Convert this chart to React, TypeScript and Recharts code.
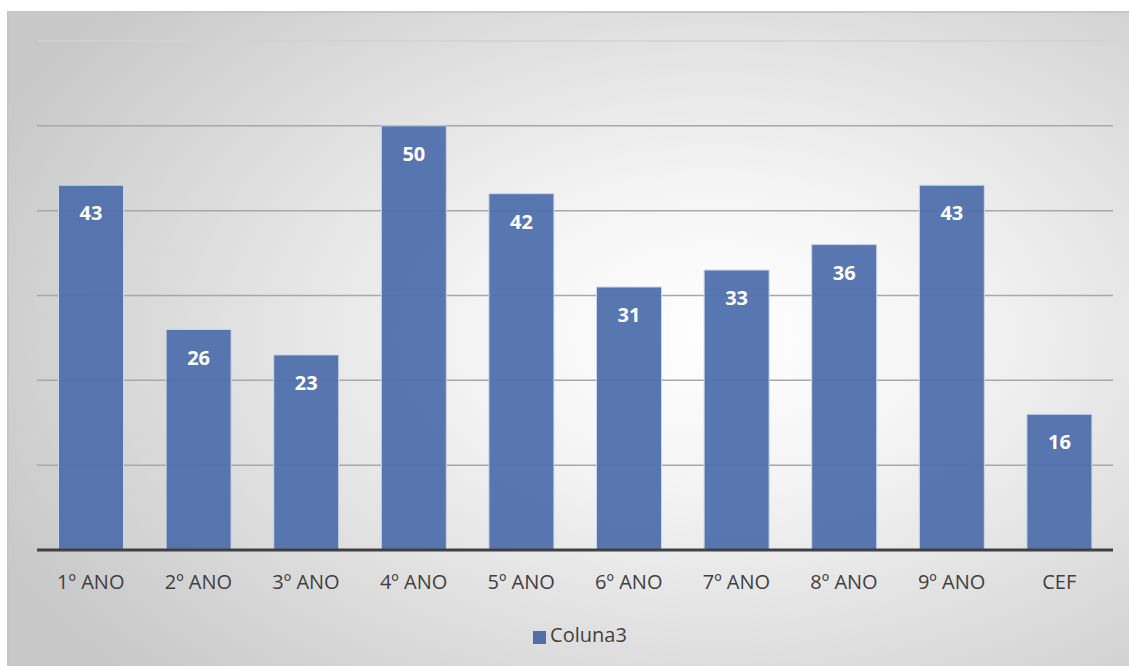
import { BarChart, Bar, XAxis, YAxis, CartesianGrid, Legend, LabelList } from 'recharts'

const categories = ['1º ANO', '2º ANO', '3º ANO', '4º ANO', '5º ANO', '6º ANO', '7º ANO', '8º ANO', '9º ANO', 'CEF']
const coluna3 = [43, 26, 23, 50, 42, 31, 33, 36, 43, 16]
const yTicks = [0, 10, 20, 30, 40, 50, 60]

const data = categories.map((name, i) => ({ name, Coluna3: coluna3[i] }))

const font = '"Open Sans", "Noto Sans", sans-serif'

function GridLine(props: any) {
  const { x1, x2, y1, y2 } = props
  return (
    <line
      x1={x1}
      x2={x2}
      y1={y1}
      y2={y2}
      stroke={y1 < 60 ? '#d2d2d2' : '#a8a8a8'}
      strokeWidth={1.5}
    />
  )
}

export default function App() {
  return (
    <div style={{ position: 'absolute', left: 0, top: 0, width: 1129, height: 666, overflow: 'hidden', background: '#fff' }}>
      <div
        style={{
          position: 'absolute',
          left: 7,
          top: 11,
          width: 1140,
          height: 670,
          borderTop: '2px solid #c6c6c6',
          borderLeft: '2px solid #c6c6c6',
          background: 'radial-gradient(ellipse 70% 75% at 62% 48%, #ffffff 0%, #f4f4f4 30%, #dedede 65%, #c8c8c8 100%)',
        }}
      >
        <BarChart
          width={1120}
          height={653}
          data={data}
          margin={{ top: 28, right: 16, left: 28, bottom: 46 }}
          barCategoryGap="20%"
          style={{ fontFamily: font }}
        >
          <CartesianGrid vertical={false} horizontal={GridLine as any} />
          <YAxis hide domain={[0, 60]} ticks={yTicks} />
          <XAxis
            dataKey="name"
            height={40}
            tickLine={false}
            axisLine={{ stroke: '#404040', strokeWidth: 3 }}
            tick={{ fill: '#404040', fontSize: 20, fontFamily: font }}
            tickMargin={19}
          />
          <Legend
            verticalAlign="bottom"
            height={30}
            iconType="square"
            iconSize={13}
            wrapperStyle={{ bottom: 15, left: 38 }}
            formatter={(v: string) => <span style={{ color: '#404040', fontSize: 20, fontFamily: font }}>{v}</span>}
          />
          <Bar dataKey="Coluna3" fill="#4f6fab" fillOpacity={0.95} stroke="#cdd6e8" strokeWidth={1} isAnimationActive={false}>
            <LabelList
              dataKey="Coluna3"
              position="insideTop"
              offset={21}
              fill="#ffffff"
              style={{ fontSize: 20, fontWeight: 700, fontFamily: font }}
            />
          </Bar>
        </BarChart>
      </div>
    </div>
  )
}
